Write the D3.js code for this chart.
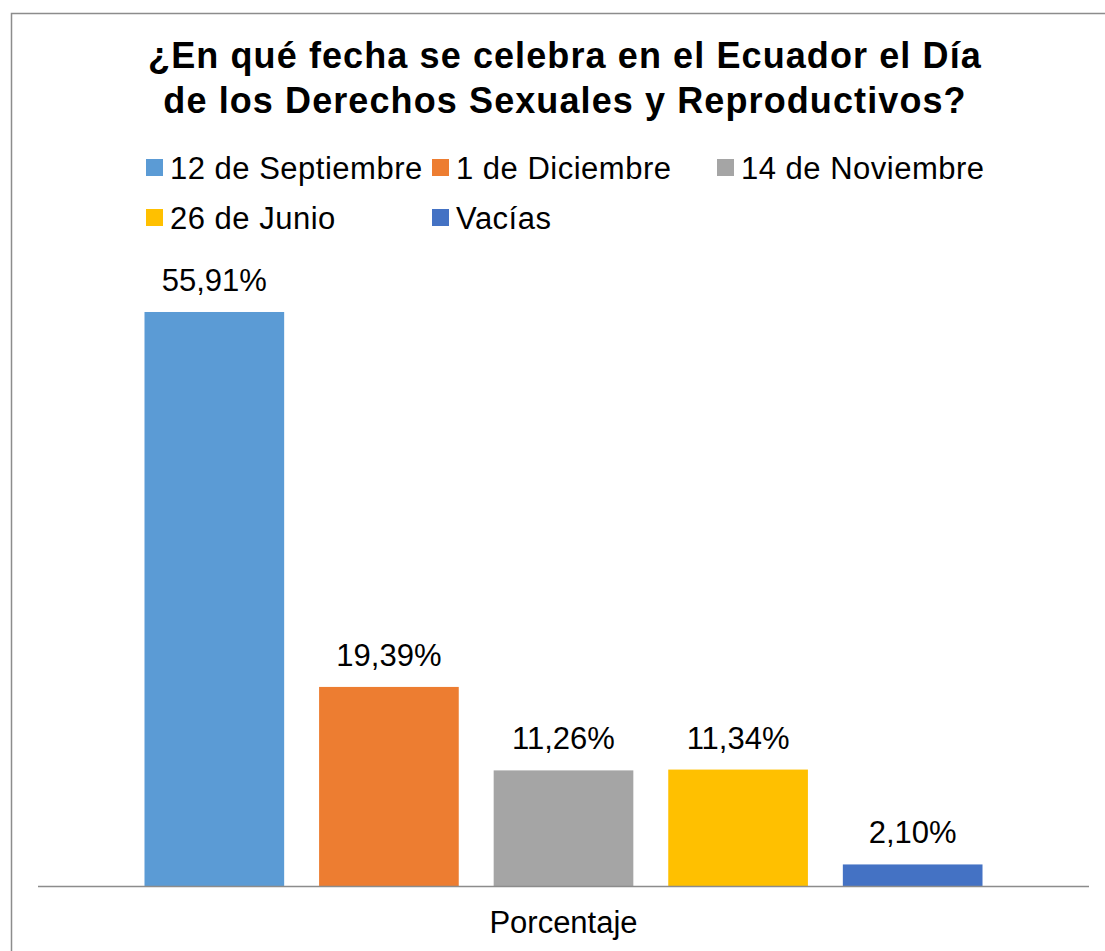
<!DOCTYPE html>
<html>
<head>
<meta charset="utf-8">
<script src="https://cdn.jsdelivr.net/npm/d3@7"></script>
<style>
  body { margin: 0; background: #fff; }
  text { font-family: "Liberation Sans", Arial, sans-serif; fill: #000; }
</style>
</head>
<body>
<div id="chart"></div>
<script>
// Data
var series = ["12 de Septiembre", "1 de Diciembre", "14 de Noviembre", "26 de Junio", "Vacías"];
var values = [55.91, 19.39, 11.26, 11.34, 2.10];
var colors = ["#5B9BD5", "#ED7D31", "#A5A5A5", "#FFC000", "#4472C4"];
var titleLines = ["¿En qué fecha se celebra en el Ecuador el Día", "de los Derechos Sexuales y Reproductivos?"];
var categoryLabel = "Porcentaje";

var width = 1105, height = 951;
var plot = {left: 38, right: 1089, top: 270, bottom: 886};

var svg = d3.select("#chart").append("svg")
    .attr("width", width)
    .attr("height", height);

// chart frame
svg.append("rect")
    .attr("x", 11.5).attr("y", 13.5)
    .attr("width", 1110).attr("height", 960)
    .attr("fill", "#fff")
    .attr("stroke", "#8c8c8c")
    .attr("stroke-width", 1.5);

// title
svg.append("g").selectAll("text")
    .data(titleLines)
    .enter().append("text")
    .attr("x", 565)
    .attr("y", function(d, i) { return 68 + i * 45; })
    .attr("text-anchor", "middle")
    .style("font-size", "36px")
    .style("letter-spacing", "1.1px")
    .style("font-weight", "bold")
    .text(function(d) { return d; });

// legend
var legendPos = [[146, 168], [432, 168], [717, 168], [146, 218], [432, 218]];
var legend = svg.append("g").selectAll("g")
    .data(series)
    .enter().append("g")
    .attr("transform", function(d, i) { return "translate(" + legendPos[i][0] + "," + legendPos[i][1] + ")"; });

legend.append("rect")
    .attr("x", 0).attr("y", -9)
    .attr("width", 17).attr("height", 17)
    .attr("fill", function(d, i) { return colors[i]; });

legend.append("text")
    .attr("x", 24)
    .attr("y", 11)
    .style("font-size", "31px")
    .style("letter-spacing", "0.5px")
    .text(function(d) { return d; });

// scales
var x = d3.scaleBand()
    .domain(series)
    .range([plot.left, plot.right])
    .paddingInner(0.2)
    .paddingOuter(0.61);

var y = d3.scaleLinear()
    .domain([0, 60])
    .range([plot.bottom, plot.top]);

var fmt = function(v) { return d3.format(".2f")(v).replace(".", ",") + "%"; };

// bars
svg.append("g").selectAll("rect")
    .data(values)
    .enter().append("rect")
    .attr("x", function(d, i) { return x(series[i]); })
    .attr("y", function(d) { return y(d); })
    .attr("width", x.bandwidth())
    .attr("height", function(d) { return y(0) - y(d); })
    .attr("fill", function(d, i) { return colors[i]; });

// value labels
svg.append("g").selectAll("text")
    .data(values)
    .enter().append("text")
    .attr("x", function(d, i) { return x(series[i]) + x.bandwidth() / 2; })
    .attr("y", function(d) { return y(d) - 21; })
    .attr("text-anchor", "middle")
    .style("font-size", "31px")
    .text(function(d) { return fmt(d); });

// category axis line
svg.append("line")
    .attr("x1", plot.left).attr("x2", plot.right)
    .attr("y1", y(0) + 0.5).attr("y2", y(0) + 0.5)
    .attr("stroke", "#8c8c8c")
    .attr("stroke-width", 1.5);

// category label
svg.append("text")
    .attr("x", (plot.left + plot.right) / 2)
    .attr("y", 933)
    .attr("text-anchor", "middle")
    .style("font-size", "31px")
    .text(categoryLabel);
</script>
</body>
</html>
